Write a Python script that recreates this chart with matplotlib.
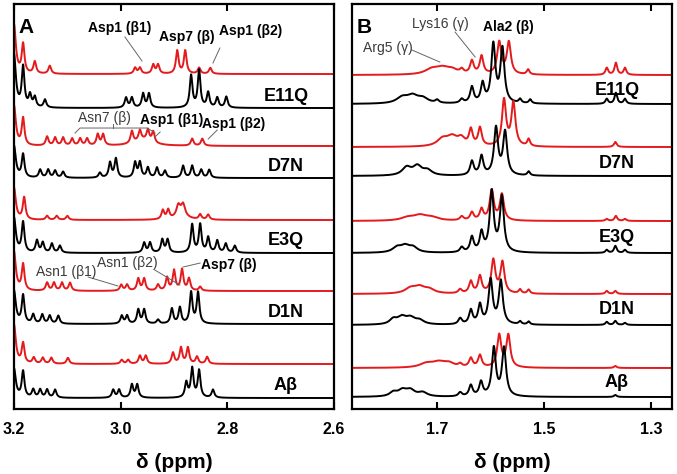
import numpy as np
import matplotlib.pyplot as plt

plt.rcParams['font.family'] = ['Liberation Sans', 'DejaVu Sans']

# Muestras, de arriba a abajo (cada una: traza roja encima de la negra)
muestras = ['E11Q', 'D7N', 'E3Q', 'D1N', 'Aβ']

# Picos: (ppm, intensidad, semiancho en ppm)
# ---- Panel A (3.2 - 2.6 ppm) ----
a_e11q_rojo = [(3.200, 49, 0.004), (3.183, 29, 0.003), (3.161, 12, 0.003), (3.133, 8, 0.003),
               (2.973, 6, 0.003), (2.964, 6, 0.003), (2.939, 9, 0.003), (2.930, 9, 0.003),
               (2.894, 23, 0.003), (2.879, 23, 0.003), (2.853, 6, 0.003), (2.832, 6, 0.003)]
a_e11q_negro = [(3.200, 53, 0.004), (3.183, 40, 0.003), (3.170, 12, 0.003), (3.161, 10, 0.003),
                (3.142, 8, 0.003), (2.990, 10, 0.003), (2.979, 10, 0.003), (2.958, 14, 0.003),
                (2.947, 14, 0.003), (2.868, 32, 0.003), (2.853, 37, 0.003), (2.836, 15, 0.003),
                (2.819, 10, 0.003), (2.802, 11, 0.003)]
a_d7n_rojo = [(3.200, 40, 0.004), (3.183, 27, 0.003), (3.138, 9, 0.003), (3.123, 8, 0.003),
              (3.108, 8, 0.003), (3.091, 7, 0.003), (3.076, 7, 0.003), (3.063, 7, 0.003),
              (3.043, 11, 0.003), (3.033, 11, 0.003), (2.979, 12, 0.003), (2.964, 10, 0.003),
              (2.958, 6, 0.02), (2.949, 11, 0.003), (2.939, 11, 0.003), (2.866, 7, 0.003),
              (2.847, 7, 0.003)]
a_d7n_negro = [(3.200, 32, 0.004), (3.183, 23, 0.003), (3.151, 8, 0.003), (3.136, 8, 0.003),
               (3.123, 7, 0.003), (3.108, 6, 0.003), (3.039, 5, 0.003), (3.020, 15, 0.003),
               (3.009, 19, 0.003), (2.973, 15, 0.003), (2.964, 15, 0.003), (2.949, 10, 0.003),
               (2.932, 10, 0.003), (2.917, 7, 0.003), (2.883, 12, 0.003), (2.866, 12, 0.003),
               (2.849, 8, 0.003), (2.834, 8, 0.003)]
a_e3q_rojo = [(3.200, 32, 0.004), (3.181, 22, 0.003), (3.138, 4, 0.003), (3.120, 4, 0.003),
              (3.100, 4, 0.003), (2.921, 9, 0.003), (2.911, 9, 0.003), (2.892, 10, 0.004),
              (2.886, 6, 0.012), (2.883, 10, 0.004), (2.851, 5, 0.003), (2.836, 5, 0.003)]
a_e3q_negro = [(3.200, 35, 0.004), (3.183, 30, 0.003), (3.157, 12, 0.003), (3.146, 10, 0.003),
               (3.129, 9, 0.003), (3.114, 7, 0.003), (2.956, 10, 0.003), (2.945, 10, 0.003),
               (2.922, 13, 0.003), (2.912, 13, 0.003), (2.866, 28, 0.003), (2.851, 28, 0.003),
               (2.836, 15, 0.003), (2.819, 12, 0.003), (2.803, 9, 0.003), (2.786, 7, 0.003)]
a_d1n_rojo = [(3.200, 39, 0.004), (3.183, 26, 0.003), (3.138, 8, 0.003), (3.125, 8, 0.003),
              (3.110, 8, 0.003), (3.095, 8, 0.003), (2.999, 6, 0.003), (2.988, 6, 0.003),
              (2.967, 12, 0.003), (2.956, 12, 0.003), (2.930, 6, 0.003), (2.913, 13, 0.003),
              (2.900, 20, 0.003), (2.885, 21, 0.003), (2.872, 12, 0.003), (2.851, 4, 0.003)]
a_d1n_negro = [(3.200, 33, 0.004), (3.183, 28, 0.003), (3.164, 9, 0.003), (3.147, 9, 0.003),
               (3.133, 8, 0.003), (3.117, 8, 0.003), (2.998, 8, 0.003), (2.988, 8, 0.003),
               (2.967, 14, 0.003), (2.956, 14, 0.003), (2.930, 4, 0.003), (2.904, 15, 0.003),
               (2.889, 16, 0.003), (2.868, 31, 0.003), (2.855, 31, 0.003)]
a_abeta_rojo = [(3.200, 39, 0.004), (3.183, 20, 0.003), (3.163, 6, 0.003), (3.146, 6, 0.003),
                (3.130, 6, 0.003), (3.099, 6, 0.003), (2.998, 4, 0.003), (2.986, 4, 0.003),
                (2.964, 8, 0.003), (2.953, 8, 0.003), (2.902, 11, 0.003), (2.887, 16, 0.003),
                (2.874, 16, 0.003), (2.857, 7, 0.003), (2.838, 7, 0.003)]
a_abeta_negro = [(3.200, 29, 0.004), (3.183, 26, 0.003), (3.164, 8, 0.003), (3.151, 8, 0.003),
                 (3.138, 8, 0.003), (3.123, 8, 0.003), (3.014, 8, 0.003), (3.003, 8, 0.003),
                 (2.979, 13, 0.003), (2.969, 13, 0.003), (2.877, 15, 0.003), (2.866, 29, 0.003),
                 (2.853, 27, 0.003), (2.827, 8, 0.003)]

# ---- Panel B (1.86 - 1.26 ppm) ----
b_e11q_rojo = [(1.710, 5, 0.015), (1.690, 6, 0.015), (1.672, 4, 0.012), (1.654, 4, 0.004),
               (1.635, 13, 0.004), (1.617, 18, 0.004), (1.584, 32, 0.0045), (1.566, 32, 0.0045),
               (1.530, 5, 0.003), (1.383, 7, 0.003), (1.366, 12, 0.003), (1.349, 7, 0.003)]
b_e11q_negro = [(1.765, 6, 0.013), (1.746, 7, 0.012), (1.727, 5, 0.012), (1.700, 3, 0.004),
                (1.654, 4, 0.004), (1.635, 16, 0.004), (1.615, 19, 0.004), (1.595, 58, 0.0045),
                (1.578, 54, 0.0045), (1.545, 4, 0.003), (1.526, 4, 0.003), (1.383, 5, 0.003),
                (1.366, 11, 0.003), (1.349, 5, 0.003)]
b_d7n_rojo = [(1.690, 7, 0.012), (1.672, 9, 0.012), (1.655, 7, 0.008), (1.637, 16, 0.004),
              (1.620, 18, 0.004), (1.575, 46, 0.0045), (1.5575, 43, 0.0045), (1.529, 7, 0.003),
              (1.367, 5, 0.003)]
b_d7n_negro = [(1.757, 8, 0.01), (1.737, 9, 0.01), (1.718, 5, 0.01), (1.635, 14, 0.004),
               (1.617, 19, 0.004), (1.590, 47, 0.0045), (1.573, 43, 0.0045), (1.529, 4, 0.003)]
b_e3q_rojo = [(1.755, 3, 0.015), (1.732, 5, 0.015), (1.710, 3, 0.015), (1.654, 4, 0.004),
              (1.635, 8, 0.004), (1.617, 11, 0.004), (1.598, 30, 0.0045), (1.579, 26, 0.0045),
              (1.383, 2, 0.003), (1.366, 5, 0.003), (1.349, 2, 0.003)]
b_e3q_negro = [(1.775, 5, 0.01), (1.760, 6, 0.01), (1.745, 5, 0.01), (1.654, 5, 0.004),
               (1.635, 15, 0.004), (1.617, 19, 0.004), (1.598, 60, 0.0045), (1.579, 55, 0.0045),
               (1.383, 3, 0.003), (1.367, 7, 0.003), (1.349, 3, 0.003)]
b_d1n_rojo = [(1.750, 5, 0.012), (1.733, 6, 0.012), (1.715, 4, 0.012), (1.657, 4, 0.004),
              (1.637, 12, 0.004), (1.620, 17, 0.004), (1.595, 33, 0.0045), (1.578, 31, 0.0045),
              (1.545, 4, 0.003), (1.529, 4, 0.003), (1.383, 3, 0.003), (1.367, 3, 0.003)]
b_d1n_negro = [(1.782, 5, 0.008), (1.766, 7, 0.01), (1.750, 6, 0.01), (1.733, 4, 0.01),
               (1.657, 6, 0.004), (1.637, 14, 0.004), (1.620, 19, 0.004), (1.600, 44, 0.0045),
               (1.581, 43, 0.0045), (1.545, 3, 0.003), (1.529, 3, 0.003), (1.383, 3, 0.003),
               (1.367, 4, 0.003), (1.349, 2, 0.003)]
b_abeta_rojo = [(1.720, 4, 0.015), (1.697, 5, 0.015), (1.678, 4, 0.012), (1.657, 3, 0.004),
                (1.637, 9, 0.004), (1.620, 12, 0.004), (1.584, 32, 0.0045), (1.567, 32, 0.0045),
                (1.367, 2, 0.003)]
b_abeta_negro = [(1.782, 4, 0.008), (1.765, 6, 0.01), (1.750, 6, 0.01), (1.727, 4, 0.01),
                 (1.657, 4, 0.004), (1.637, 11, 0.004), (1.618, 14, 0.004), (1.594, 48, 0.0045),
                 (1.575, 48, 0.0045), (1.367, 2, 0.003)]

ROJO = '#e41a1c'


def espectro(ppm, picos):
    # suma de lorentzianas a partir de la lista de picos
    y = np.zeros_like(ppm)
    for centro, altura, ancho in picos:
        y += altura / (1 + ((ppm - centro) / ancho) ** 2)
    return y


def dibujar_panel(ax, rango, trazas, lineas_base, ticks, letra):
    ppm = np.linspace(rango[0], rango[1], 3000)
    for (rojo, negro), (base_r, base_n) in zip(trazas, lineas_base):
        ax.plot(ppm, base_r + espectro(ppm, rojo), color=ROJO, lw=1.4)
        ax.plot(ppm, base_n + espectro(ppm, negro), color='black', lw=1.4)
    ax.set_xlim(rango)
    ax.set_ylim(0, 405)
    ax.set_yticks([])
    ax.set_xticks(ticks)
    ax.set_xticklabels([f'{t:.1f}' for t in ticks], fontsize=11.5, fontweight='bold')
    ax.tick_params(axis='x', direction='in', length=5, width=1.5, top=True, pad=9)
    for s in ax.spines.values():
        s.set_linewidth(1.6)
    ax.set_xlabel('δ (ppm)', fontsize=15, fontweight='bold', labelpad=12)
    ax.text(0.013, 0.965, letra, transform=ax.transAxes, fontsize=15,
            fontweight='bold', va='top', ha='left')


def etiqueta(ax, x, y, texto, negrita=True, linea=None):
    ax.text(x, y, texto, ha='center', va='center', fontsize=10,
            fontweight='bold' if negrita else 'normal',
            color='black' if negrita else '#3a3a3a')
    if linea is not None:
        ax.plot(linea[0], linea[1], color='#666666', lw=0.7)


fig = plt.figure(figsize=(6.77, 4.74), dpi=100)
axA = fig.add_axes([0.0207, 0.1371, 0.4727, 0.8544])
axB = fig.add_axes([0.5200, 0.1371, 0.4727, 0.8544])

trazas_a = [(a_e11q_rojo, a_e11q_negro), (a_d7n_rojo, a_d7n_negro), (a_e3q_rojo, a_e3q_negro),
            (a_d1n_rojo, a_d1n_negro), (a_abeta_rojo, a_abeta_negro)]
trazas_b = [(b_e11q_rojo, b_e11q_negro), (b_d7n_rojo, b_d7n_negro), (b_e3q_rojo, b_e3q_negro),
            (b_d1n_rojo, b_d1n_negro), (b_abeta_rojo, b_abeta_negro)]

bases_a = [(335, 301), (263, 231), (189, 156), (118, 85), (45, 11)]
bases_b = [(334, 305), (262, 233), (188, 156), (115, 84), (41, 12)]

dibujar_panel(axA, (3.2, 2.6), trazas_a, bases_a, [3.2, 3.0, 2.8, 2.6], 'A')
dibujar_panel(axB, (1.859, 1.261), trazas_b, bases_b, [1.7, 1.5, 1.3], 'B')

# nombres de las muestras
y_nombres = [313, 243, 169, 97, 24]
for nombre, yy in zip(muestras, y_nombres):
    axA.text(2.69, yy, nombre, ha='center', va='center', fontsize=13, fontweight='bold')
    axB.text(1.364, yy + (6 if nombre == 'E11Q' else 3), nombre, ha='center', va='center',
             fontsize=13, fontweight='bold')

# asignaciones panel A
etiqueta(axA, 3.001, 381, 'Asp1 (β1)', linea=([2.992, 2.960], [372, 348]))
etiqueta(axA, 2.876, 372, 'Asp7 (β)')
etiqueta(axA, 2.757, 378, 'Asp1 (β2)', linea=([2.814, 2.827], [361, 346]))
etiqueta(axA, 3.031, 291, 'Asn7 (β)', negrita=False,
         linea=([3.0856, 3.0762, 2.950, 2.9356], [276, 281, 281, 276]))
axA.plot([3.0144, 3.0144], [281, 285], color='#666666', lw=0.7)
etiqueta(axA, 2.904, 289, 'Asp1 (β1)', linea=([2.926, 2.936], [277, 272]))
etiqueta(axA, 2.789, 285, 'Asp1 (β2)', linea=([2.819, 2.836], [279, 270]))
etiqueta(axA, 3.102, 137, 'Asn1 (β1)', negrita=False, linea=([3.061, 3.005], [132, 123]))
etiqueta(axA, 2.988, 146, 'Asn1 (β2)', negrita=False, linea=([2.936, 2.889], [139, 124]))
etiqueta(axA, 2.797, 144, 'Asp7 (β)', linea=([2.851, 2.883], [146, 142]))

# asignaciones panel B
etiqueta(axB, 1.693, 385, 'Lys16 (γ)', negrita=False, linea=([1.6665, 1.629], [377, 352]))
etiqueta(axB, 1.567, 382, 'Ala2 (β)')
etiqueta(axB, 1.792, 361, 'Arg5 (γ)', negrita=False, linea=([1.747, 1.695], [359, 347]))

fig.savefig('out.png', dpi=100)
